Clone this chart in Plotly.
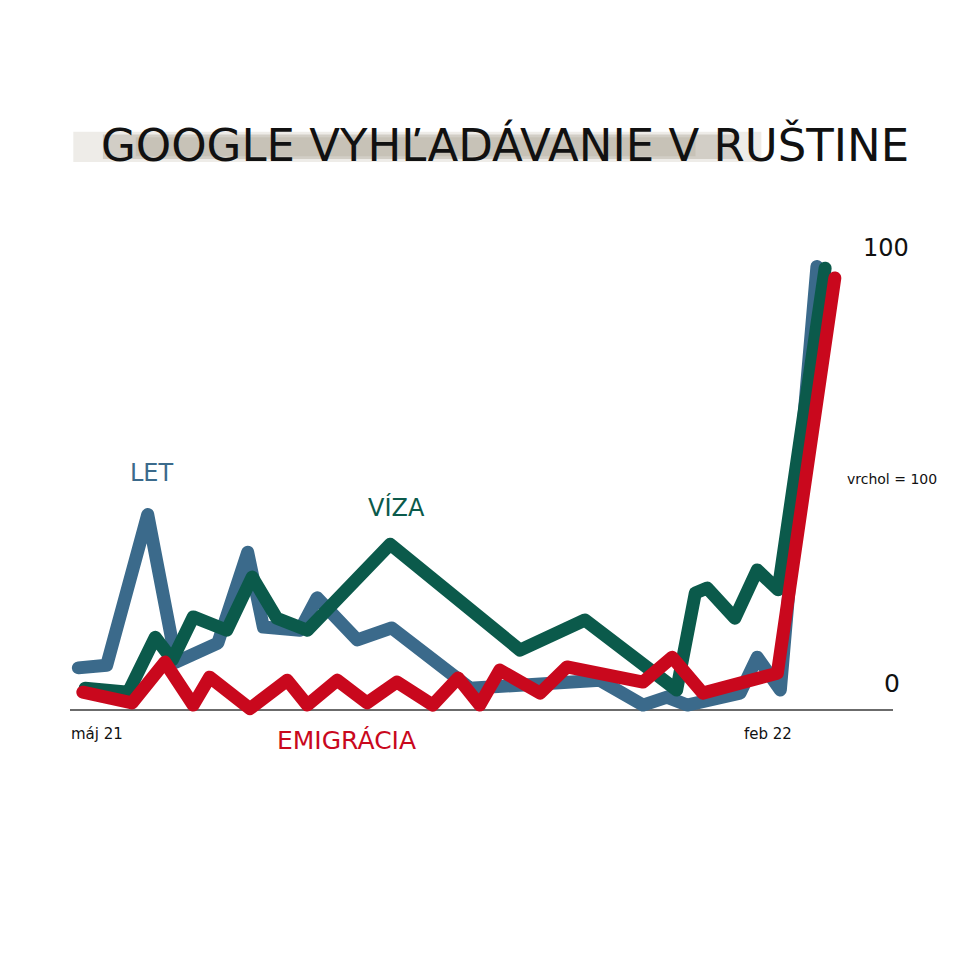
import plotly.graph_objects as go

# x = months since May 2021 (máj 21 = 0, feb 22 = 9); y = Google Trends index (peak = 100)
let_x = [-0.25, 0.13, 0.68, 1.06, 1.62, 2.02, 2.23, 2.72, 2.95, 3.49, 3.95, 5.00, 6.74, 7.32, 7.64, 7.91, 8.62, 8.85, 9.16, 9.65]
let_y = [8.4, 9.0, 43.0, 9.7, 14.0, 34.5, 17.6, 16.9, 24.2, 14.7, 17.4, 3.8, 5.6, 0.0, 1.8, 0.0, 2.7, 10.8, 3.4, 99.0]

viza_x = [-0.16, 0.42, 0.78, 1.01, 1.29, 1.74, 2.08, 2.41, 2.82, 3.93, 5.67, 6.54, 7.77, 8.02, 8.18, 8.55, 8.85, 9.13, 9.76]
viza_y = [3.8, 2.9, 15.3, 10.2, 19.9, 16.9, 28.9, 19.6, 16.9, 36.3, 12.4, 19.2, 3.4, 25.3, 26.4, 19.6, 30.5, 26.0, 98.6]

emig_x = [-0.19, 0.47, 0.91, 1.29, 1.51, 2.05, 2.55, 2.82, 3.22, 3.62, 4.02, 4.50, 4.84, 5.13, 5.40, 5.94, 6.30, 7.32, 7.71, 8.12, 9.12, 9.89]
emig_y = [2.9, 0.5, 9.7, 0.0, 6.3, -0.8, 5.6, 0.0, 5.6, 0.5, 5.2, 0.0, 6.1, 0.0, 7.9, 2.7, 8.6, 5.2, 10.8, 2.7, 7.2, 96.4]

series_names = ["LET", "VÍZA", "EMIGRÁCIA"]
series_colors = ["#3b6a8b", "#0b5a4b", "#c9081d"]

tick_months = [0, 9]
tick_labels = ["máj 21", "feb 22"]

title_text = "GOOGLE VYHĽADÁVANIE V RUŠTINE"
FONT = "DejaVu Sans"

fig = go.Figure()
for xs, ys, name, col in [(let_x, let_y, series_names[0], series_colors[0]),
                          (viza_x, viza_y, series_names[1], series_colors[1]),
                          (emig_x, emig_y, series_names[2], series_colors[2])]:
    fig.add_trace(go.Scatter(x=xs, y=ys, mode="lines", name=name,
                             line=dict(color=col, width=13), hoverinfo="skip",
                             showlegend=False))

XR = [-0.362, 10.67]
YR = [-12.4, 114.0]

# baseline
fig.add_shape(type="line", xref="paper", yref="y", x0=0, x1=1, y0=-1.13, y1=-1.13,
              line=dict(color="#3a3a3a", width=1.6), layer="below")

# brush stroke behind title
fig.add_shape(type="rect", xref="paper", yref="paper", x0=0.004, x1=0.84, y0=1.068, y1=1.122,
              fillcolor="#e2dfd9", line=dict(width=0), opacity=0.6, layer="below")
fig.add_shape(type="rect", xref="paper", yref="paper", x0=0.04, x1=0.81, y0=1.073, y1=1.117,
              fillcolor="#cbc7bd", line=dict(width=0), opacity=0.8, layer="below")
fig.add_shape(type="rect", xref="paper", yref="paper", x0=0.08, x1=0.76, y0=1.078, y1=1.112,
              fillcolor="#bfbaae", line=dict(width=0), opacity=0.6, layer="below")

ann = []
# series labels
ann.append(dict(x=0.74, y=52.4, text=series_names[0], font=dict(color=series_colors[0], size=24, family=FONT)))
ann.append(dict(x=4.01, y=44.7, text=series_names[1], font=dict(color=series_colors[1], size=24, family=FONT)))
ann.append(dict(x=3.34, y=-7.9, text=series_names[2], font=dict(color=series_colors[2], size=25, family=FONT)))
# tick labels
for m, t in zip(tick_months, tick_labels):
    ann.append(dict(x=m, y=-6.6, text=t, font=dict(color="#111", size=15, family=FONT)))
# y labels
ann.append(dict(x=10.58, y=103.2, text="100", font=dict(color="#111", size=24, family=FONT)))
ann.append(dict(x=10.66, y=4.8, text="0", font=dict(color="#111", size=25, family=FONT)))
ann.append(dict(x=10.66, y=51.0, text="vrchol = 100", font=dict(color="#111", size=14, family=FONT)))
for a in ann:
    a.update(xref="x", yref="y", showarrow=False, xanchor="center", yanchor="middle")

fig.update_layout(
    width=970, height=970,
    margin=dict(l=70, r=77, t=200, b=210),
    paper_bgcolor="white", plot_bgcolor="white",
    title=dict(text=title_text, x=505/970, y=1-145/970, xanchor="center", yanchor="middle",
               font=dict(family=FONT, size=45, color="#111")),
    xaxis=dict(range=XR, visible=False, fixedrange=True),
    yaxis=dict(range=YR, visible=False, fixedrange=True),
    annotations=ann,
    showlegend=False,
)

post = """
document.body.style.margin='0';
var st=document.createElement('style');
st.textContent='.scatterlayer path.js-line{stroke-linejoin:round !important;stroke-linecap:round !important;}';
document.head.appendChild(st);
"""
fig.write_html("out.html", post_script=post, config={"displayModeBar": False, "staticPlot": True})
